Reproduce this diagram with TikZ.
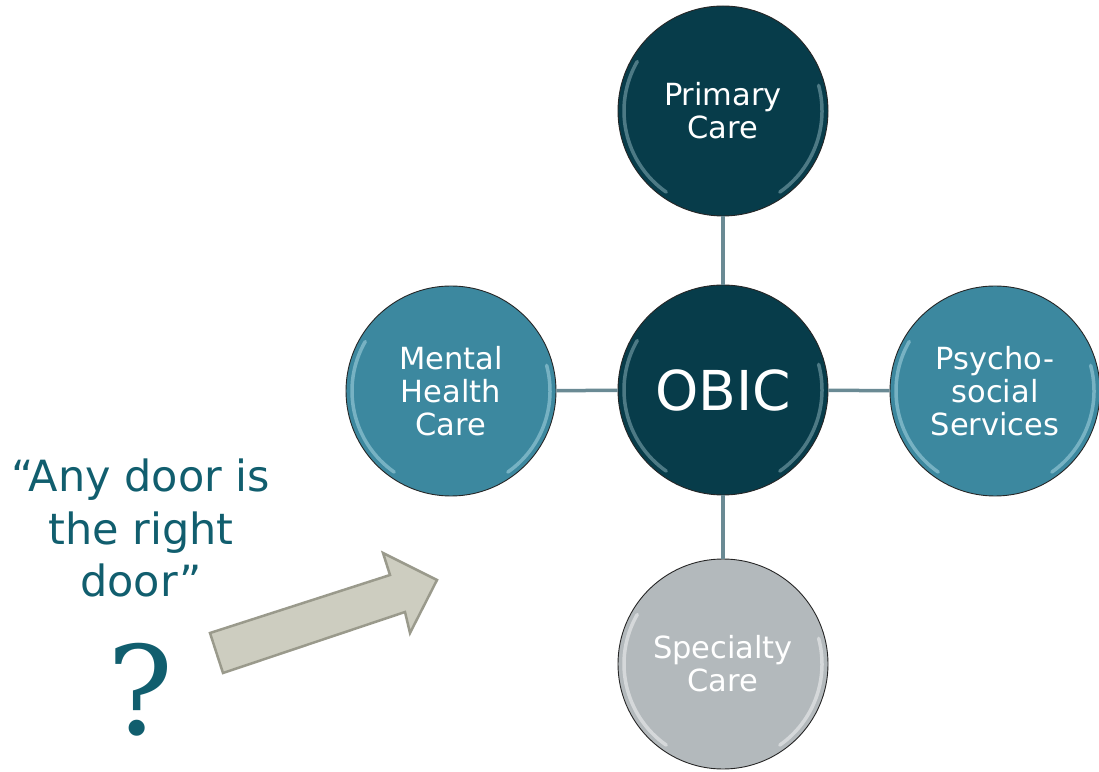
\documentclass[tikz,border=0pt]{standalone}
\usepackage{fontspec}
\setmainfont{DejaVu Sans}
\newfontfamily\qfont{DejaVu Serif}
\definecolor{darkteal}{HTML}{073C4A}
\definecolor{midteal}{HTML}{3C889F}
\definecolor{specgray}{HTML}{B3B9BC}
\definecolor{linkcol}{HTML}{6A8A94}
\definecolor{quotecol}{HTML}{115E6E}
\definecolor{arrowfill}{HTML}{CDCDC0}
\definecolor{arrowdraw}{HTML}{9A9A8C}
\begin{document}
\begin{tikzpicture}[x=1pt,y=1pt,
  ball/.style={circle, draw=black!85, line width=0.9pt, minimum size=210pt, inner sep=0pt,
    text=white, align=center, font=\fontsize{30.5}{33}\selectfont},
  link/.style={draw=linkcol, line width=3.5pt},
  shine/.style={line width=3.5pt, line cap=round, opacity=0.45}]
\useasboundingbox (0,0) rectangle (1099,771);
\node[ball, fill=darkteal] (prim) at (723,660) {Primary\\Care};
\node[ball, fill=darkteal, font=\fontsize{55}{60}\selectfont] (obic) at (723,381) {OBIC};
\node[ball, fill=midteal] (mental) at (451,380) {Mental\\Health\\Care};
\node[ball, fill=midteal] (psycho) at (995,380) {Psycho-\\social\\Services};
\node[ball, fill=specgray] (spec) at (723,107) {Specialty\\Care};
\draw[link] (prim) -- (obic);
\draw[link] (mental) -- (obic);
\draw[link] (obic) -- (psycho);
\draw[link] (obic) -- (spec);
\foreach \n/\c in {prim/A3C6CF, obic/A3C6CF, mental/BFE6F0, psycho/BFE6F0, spec/FFFFFF}{
  \definecolor{shinecol}{HTML}{\c}
  \draw[shine, shinecol] ([shift={(150:99)}]\n.center) arc (150:235:99);
  \draw[shine, shinecol] ([shift={(-55:99)}]\n.center) arc (-55:15:99);
}
\node[text=quotecol, align=center, font=\fontsize{43}{52.5}\selectfont] (quote) at (141,243)
  {“Any door is\\the right\\door”};
\node[text=quotecol, font=\qfont\fontsize{123}{130}\selectfont, inner sep=0pt] (qmark) at (140,81) {?};
\draw[fill=arrowfill, draw=arrowdraw, line width=2.5pt, line join=miter]
  (210,138) -- (390,196) -- (383,218) -- (437,191) -- (410,138) -- (405,159) -- (223,98) -- cycle;
\end{tikzpicture}
\end{document}
